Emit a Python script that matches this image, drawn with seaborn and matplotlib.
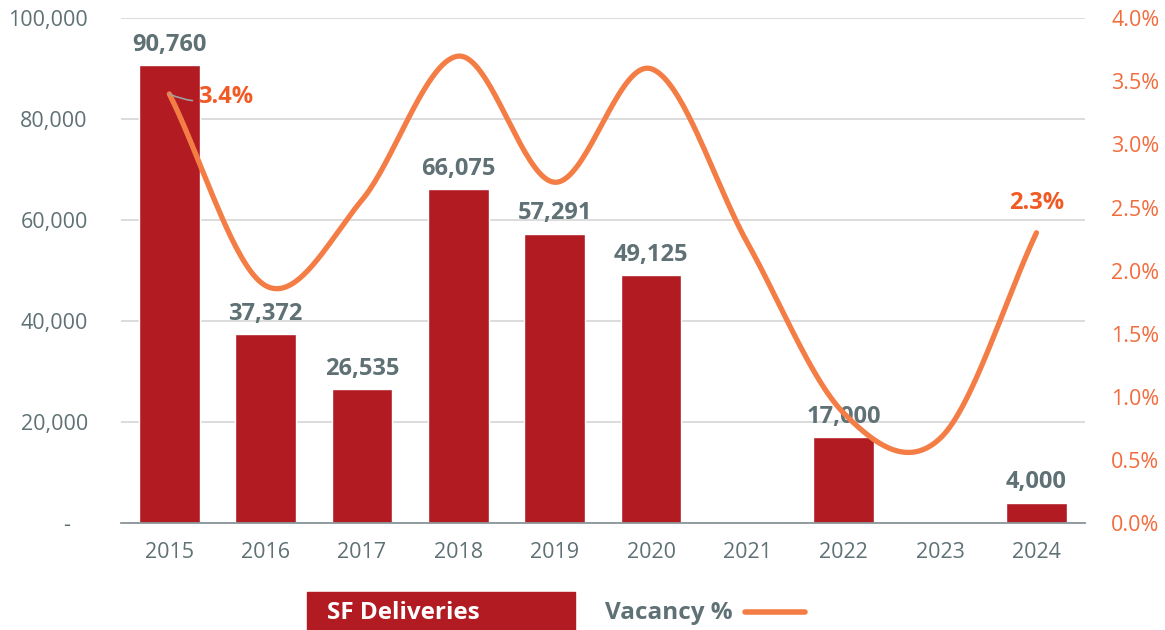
import numpy as np
import pandas as pd
import matplotlib
matplotlib.use("Agg")
import matplotlib.pyplot as plt
from matplotlib.patches import Rectangle
from matplotlib.lines import Line2D
from matplotlib.ticker import FuncFormatter, MultipleLocator
import seaborn as sns

years = ["2015", "2016", "2017", "2018", "2019", "2020", "2021", "2022", "2023", "2024"]
deliveries = [90760, 37372, 26535, 66075, 57291, 49125, 0, 17000, 0, 4000]
vacancy = [3.4, 1.88, 2.56, 3.70, 2.70, 3.60, 2.22, 0.87, 0.67, 2.30]
vacancy_labels = {0: "3.4%", 9: "2.3%"}

BAR_RED = "#b31b23"
LINE_ORANGE = "#f47d45"
LABEL_ORANGE = "#f15a24"
TICK_ORANGE = "#f26c3d"
GRAY = "#5f7175"

sns.set_theme(style="white")
plt.rcParams["font.family"] = ["Open Sans", "DejaVu Sans"]

fig = plt.figure(figsize=(11.65, 6.3), dpi=100)
ax = fig.add_axes([0.104, 0.170, 0.827, 0.801])

df = pd.DataFrame({"year": years, "deliveries": deliveries})
sns.barplot(data=df, x="year", y="deliveries", color=BAR_RED, saturation=1,
            width=0.63, ax=ax, zorder=2)

ax.set_ylim(0, 100000)
ax.set_xlim(-0.5, len(years) - 0.5)
ax.yaxis.set_major_locator(MultipleLocator(20000))
ax.yaxis.set_major_formatter(FuncFormatter(lambda v, p: "-   " if v == 0 else f"{v:,.0f}"))
ax.grid(axis="y", color="#d9d9d9", lw=1.3, zorder=0)
ax.set_axisbelow(True)
for s in ["top", "right", "left"]:
    ax.spines[s].set_visible(False)
ax.spines["bottom"].set_color("#8a9599")
ax.spines["bottom"].set_linewidth(1.3)
ax.set_xlabel("")
ax.set_ylabel("")
ax.tick_params(axis="both", length=0, labelsize=15.5, labelcolor=GRAY)
ax.tick_params(axis="y", pad=24)
ax.tick_params(axis="x", pad=14)

# value labels above the bars
for i, v in enumerate(deliveries):
    if v > 0:
        ax.annotate(f"{v:,}", (i, v), xytext=(0, 6), textcoords="offset points",
                    ha="center", va="bottom", fontsize=17, fontweight="bold",
                    color=GRAY)

# vacancy on the secondary axis, drawn as a smooth Catmull-Rom curve
ax2 = ax.twinx()
ax2.set_ylim(0, 4.0)
ax2.yaxis.set_major_locator(MultipleLocator(0.5))
ax2.yaxis.set_major_formatter(FuncFormatter(lambda v, p: f"{v:.1f}%"))
ax2.tick_params(axis="y", length=0, labelsize=15.5, labelcolor=TICK_ORANGE, pad=19)
for s in ax2.spines.values():
    s.set_visible(False)
ax2.grid(False)

xs = np.arange(len(vacancy), dtype=float)
ys = np.array(vacancy, dtype=float)
px = np.concatenate([[2 * xs[0] - xs[1]], xs, [2 * xs[-1] - xs[-2]]])
py = np.concatenate([[2 * ys[0] - ys[1]], ys, [2 * ys[-1] - ys[-2]]])
cx, cy = [], []
t = np.linspace(0, 1, 40)
for k in range(1, len(px) - 2):
    p0, p1, p2, p3 = py[k - 1], py[k], py[k + 1], py[k + 2]
    q0, q1, q2, q3 = px[k - 1], px[k], px[k + 1], px[k + 2]
    cy.append(0.5 * (2 * p1 + (-p0 + p2) * t + (2 * p0 - 5 * p1 + 4 * p2 - p3) * t**2
                     + (-p0 + 3 * p1 - 3 * p2 + p3) * t**3))
    cx.append(0.5 * (2 * q1 + (-q0 + q2) * t + (2 * q0 - 5 * q1 + 4 * q2 - q3) * t**2
                     + (-q0 + 3 * q1 - 3 * q2 + q3) * t**3))
curve = pd.DataFrame({"x": np.concatenate(cx), "y": np.concatenate(cy)})
sns.lineplot(data=curve, x="x", y="y", sort=False, color=LINE_ORANGE, lw=3.8,
             ax=ax2, solid_capstyle="round", zorder=3)
ax2.set_xlabel("")
ax2.set_ylabel("")

# vacancy labels
i0 = 0
ax2.annotate(vacancy_labels[i0], (i0, vacancy[i0]), xytext=(21, -2),
             textcoords="offset points", ha="left", va="center", fontsize=17,
             fontweight="bold", color=LABEL_ORANGE,
             arrowprops=dict(arrowstyle="-", color="#a0a0a0", lw=1.2,
                             connectionstyle="arc3,rad=-0.2", shrinkA=2, shrinkB=0))
i1 = 9
ax2.annotate(vacancy_labels[i1], (i1, vacancy[i1]), xytext=(0, 13),
             textcoords="offset points", ha="center", va="bottom", fontsize=17,
             fontweight="bold", color=LABEL_ORANGE)

# legend row
fig.patches.append(Rectangle((307 / 1165, 0), (575 - 307) / 1165, (630 - 592) / 630,
                             transform=fig.transFigure, color=BAR_RED, zorder=5))
fig.text(327 / 1165, 1 - 613 / 630, "SF Deliveries", color="white", fontsize=17.5,
         fontweight="bold", ha="left", va="center", zorder=6)
fig.text(605 / 1165, 1 - 613 / 630, "Vacancy %", color=GRAY, fontsize=17.5,
         fontweight="bold", ha="left", va="center")
fig.lines.append(Line2D([745 / 1165, 805 / 1165], [1 - 612 / 630, 1 - 612 / 630],
                        transform=fig.transFigure, color=LINE_ORANGE, lw=4,
                        solid_capstyle="round"))

fig.savefig("out.png", dpi=100)
